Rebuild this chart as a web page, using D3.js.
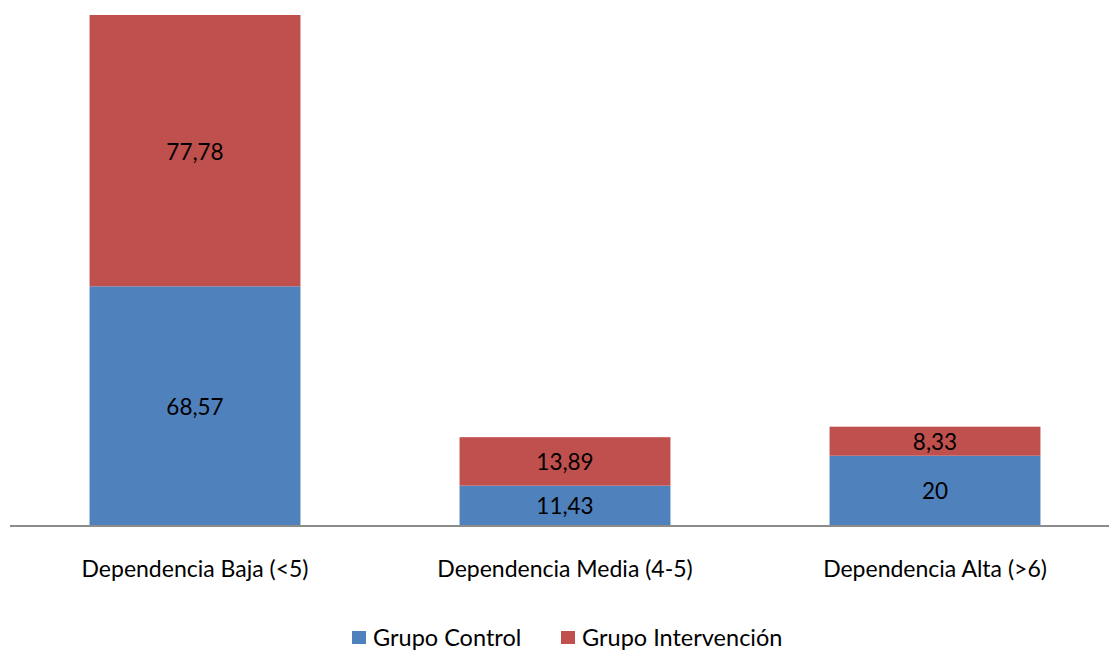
<!DOCTYPE html>
<html>
<head>
<meta charset="utf-8">
<script src="https://cdn.jsdelivr.net/npm/d3@7"></script>
<style>
  html, body { margin: 0; padding: 0; background: #fff; }
  svg { display: block; font-family: Lato, "Open Sans", sans-serif; }
</style>
</head>
<body>
<svg id="chart" width="1109" height="650"></svg>
<script>
// Nivel de dependencia por grupo (%)
const categories = ["Dependencia Baja (<5)", "Dependencia Media (4-5)", "Dependencia Alta (>6)"];
const seriesNames = ["Grupo Control", "Grupo Intervención"];
const grupoControl = [68.57, 11.43, 20];
const grupoIntervencion = [77.78, 13.89, 8.33];
const valueLabels = [["68,57", "11,43", "20"], ["77,78", "13,89", "8,33"]];
const colors = ["#4F81BD", "#C0504D"];

const svg = d3.select("#chart");

const rows = categories.map((c, i) => ({
  cat: c,
  control: grupoControl[i],
  intervencion: grupoIntervencion[i]
}));
const keys = ["control", "intervencion"];
const stacked = d3.stack().keys(keys)(rows);

const x = d3.scaleBand()
  .domain(categories)
  .range([10, 1120])
  .paddingInner(0.43)
  .paddingOuter(0.215);

const total = d3.max(rows, d => d.control + d.intervencion);
const y = d3.scaleLinear().domain([0, total]).range([525.5, 15]);

// Bars
const layers = svg.append("g").selectAll("g")
  .data(stacked)
  .join("g")
  .attr("fill", (d, i) => colors[i]);

layers.selectAll("rect")
  .data(d => d)
  .join("rect")
  .attr("x", d => x(d.data.cat))
  .attr("width", x.bandwidth())
  .attr("y", d => y(d[1]))
  .attr("height", d => y(d[0]) - y(d[1]));

// Value labels centred in each segment
stacked.forEach((layer, si) => {
  svg.append("g").selectAll("text")
    .data(layer)
    .join("text")
    .attr("x", d => x(d.data.cat) + x.bandwidth() / 2)
    .attr("y", d => (y(d[0]) + y(d[1])) / 2 + 1)
    .attr("dy", "0.35em")
    .attr("text-anchor", "middle")
    .attr("font-size", 22.5)
    .attr("fill", "#000")
    .text((d, i) => valueLabels[si][i]);
});

// Category axis
const xAxis = svg.append("g")
  .attr("transform", "translate(0,526)")
  .call(d3.axisBottom(x).tickSize(0).tickPadding(35));
xAxis.select(".domain").attr("d", "M10,0H1109").attr("stroke", "#8c8c8c").attr("stroke-width", 2);
xAxis.selectAll(".tick text")
  .attr("font-family", "Lato, 'Open Sans', sans-serif")
  .attr("font-size", 23)
  .attr("fill", "#000");

// Legend
const legendX = [352, 561];
const legend = svg.append("g");
seriesNames.forEach((name, i) => {
  legend.append("rect")
    .attr("x", legendX[i]).attr("y", 631)
    .attr("width", 14).attr("height", 13)
    .attr("fill", colors[i]);
  legend.append("text")
    .attr("x", legendX[i] + 21).attr("y", 637.5)
    .attr("dy", "0.35em")
    .attr("font-size", 23.5)
    .attr("fill", "#000")
    .text(name);
});
</script>
</body>
</html>
